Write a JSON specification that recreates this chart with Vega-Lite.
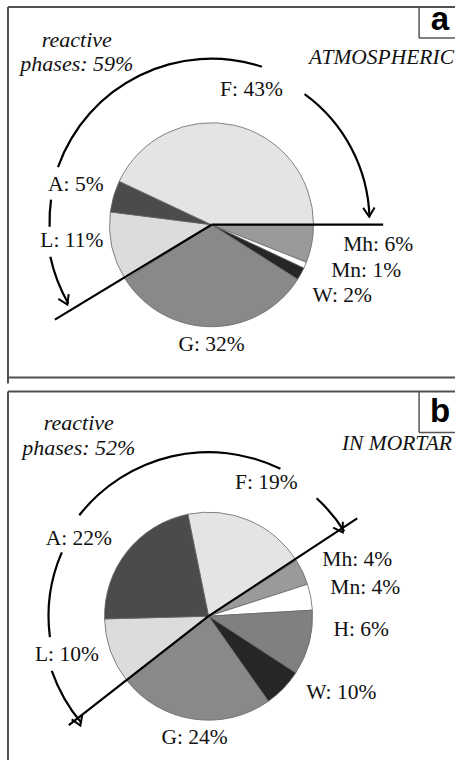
{
  "$schema": "https://vega.github.io/schema/vega-lite/v6.json",
  "width": 456,
  "height": 761,
  "autosize": {"type": "fit", "contains": "padding"},
  "padding": 0,
  "background": "white",
  "config": {"view": {"stroke": null}},
  "datasets": {
    "slices": [
      {"panel": "a", "phase": "Mh", "share": 6, "ord": 1},
      {"panel": "a", "phase": "Mn", "share": 1, "ord": 2},
      {"panel": "a", "phase": "W", "share": 2, "ord": 3},
      {"panel": "a", "phase": "G", "share": 32, "ord": 4},
      {"panel": "a", "phase": "L", "share": 11, "ord": 5},
      {"panel": "a", "phase": "A", "share": 5, "ord": 6},
      {"panel": "a", "phase": "F", "share": 43, "ord": 7},
      {"panel": "b", "phase": "F", "share": 19, "ord": 1},
      {"panel": "b", "phase": "Mh", "share": 4, "ord": 2},
      {"panel": "b", "phase": "Mn", "share": 4, "ord": 3},
      {"panel": "b", "phase": "H", "share": 10, "ord": 4},
      {"panel": "b", "phase": "W", "share": 6, "ord": 5},
      {"panel": "b", "phase": "G", "share": 24, "ord": 6},
      {"panel": "b", "phase": "L", "share": 10, "ord": 7},
      {"panel": "b", "phase": "A", "share": 22, "ord": 8}
    ],
    "curves": [
      {"panel": "a", "t0": 240.2, "t1": 257.7, "r": 165},
      {"panel": "a", "t0": 268.2, "t1": 277.8, "r": 162},
      {"panel": "a", "t0": 289.6, "t1": 378, "r": 163},
      {"panel": "a", "t0": 36.1, "t1": 88.2, "r": 158},
      {"panel": "b", "t0": 230, "t1": 250.8, "r": 166},
      {"panel": "b", "t0": 262.5, "t1": 293.5, "r": 160},
      {"panel": "b", "t0": 308, "t1": 386, "r": 164},
      {"panel": "b", "t0": 42.5, "t1": 58, "r": 160}
    ],
    "heads": [
      {"x": 67.5, "y": 305, "dir": -25},
      {"x": 370, "y": 217, "dir": -2},
      {"x": 343.5, "y": 533, "dir": -32},
      {"x": 80.5, "y": 726.5, "dir": -22}
    ],
    "lines": [
      {"kind": "ray", "x": 212, "y": 225, "x2": 384, "y2": 225},
      {"kind": "ray", "x": 212, "y": 225, "x2": 55, "y2": 320},
      {"kind": "ray", "x": 209, "y": 617, "x2": 358, "y2": 519},
      {"kind": "ray", "x": 209, "y": 617, "x2": 69, "y2": 726},
      {"kind": "frame", "x": 8, "y": 7, "x2": 456, "y2": 7},
      {"kind": "frame", "x": 8, "y": 7, "x2": 8, "y2": 384},
      {"kind": "frame", "x": 8, "y": 378, "x2": 456, "y2": 378},
      {"kind": "frame", "x": 8, "y": 392, "x2": 456, "y2": 392},
      {"kind": "frame", "x": 8, "y": 392, "x2": 8, "y2": 761},
      {"kind": "box", "x": 420, "y": 7, "x2": 420, "y2": 38},
      {"kind": "box", "x": 420, "y": 38, "x2": 456, "y2": 38},
      {"kind": "box", "x": 420, "y": 392, "x2": 420, "y2": 433},
      {"kind": "box", "x": 420, "y": 433, "x2": 456, "y2": 433}
    ],
    "texts": [
      {"kind": "note", "txt": "reactive", "x": 77, "y": 47},
      {"kind": "note", "txt": "phases: 59%", "x": 77, "y": 71},
      {"kind": "title", "txt": "ATMOSPHERIC", "x": 455, "y": 64},
      {"kind": "label", "txt": "F: 43%", "x": 252, "y": 96},
      {"kind": "label", "txt": "A: 5%", "x": 76, "y": 191},
      {"kind": "label", "txt": "L: 11%", "x": 72, "y": 247},
      {"kind": "label", "txt": "Mh: 6%", "x": 379, "y": 251},
      {"kind": "label", "txt": "Mn: 1%", "x": 367, "y": 277},
      {"kind": "label", "txt": "W: 2%", "x": 343, "y": 302},
      {"kind": "label", "txt": "G: 32%", "x": 212, "y": 351},
      {"kind": "note", "txt": "reactive", "x": 79, "y": 431},
      {"kind": "note", "txt": "phases: 52%", "x": 79, "y": 456},
      {"kind": "title", "txt": "IN MORTAR", "x": 453, "y": 451},
      {"kind": "label", "txt": "F: 19%", "x": 267, "y": 490},
      {"kind": "label", "txt": "A: 22%", "x": 79, "y": 546},
      {"kind": "label", "txt": "L: 10%", "x": 67, "y": 662},
      {"kind": "label", "txt": "Mh: 4%", "x": 358, "y": 567},
      {"kind": "label", "txt": "Mn: 4%", "x": 366, "y": 595},
      {"kind": "label", "txt": "H: 6%", "x": 362, "y": 637},
      {"kind": "label", "txt": "W: 10%", "x": 342, "y": 700},
      {"kind": "label", "txt": "G: 24%", "x": 195, "y": 745},
      {"kind": "tag", "txt": "a", "x": 441, "y": 30},
      {"kind": "tag", "txt": "b", "x": 441, "y": 423}
    ]
  },
  "layer": [
    {
      "data": {"name": "slices"},
      "transform": [{"filter": "datum.panel === 'a'"}],
      "mark": {"type": "arc", "radius": 102, "stroke": "#666666", "strokeWidth": 0.8},
      "encoding": {
        "x": {"datum": 212, "type": "quantitative", "scale": {"domain": [0, 456], "nice": false, "zero": false}, "axis": null},
        "y": {"datum": 225, "type": "quantitative", "scale": {"domain": [0, 761], "nice": false, "zero": false, "reverse": true}, "axis": null},
        "theta": {"field": "share", "type": "quantitative", "stack": true, "scale": {"range": [1.5708, 7.854]}},
        "order": {"field": "ord", "type": "quantitative"},
        "color": {"field": "phase", "type": "nominal", "legend": null,
          "scale": {"domain": ["F", "A", "L", "G", "W", "Mn", "Mh", "H"],
                    "range": ["#e4e4e4", "#4b4b4b", "#dcdcdc", "#898989", "#262626", "#ffffff", "#9a9a9a", "#808080"]}}
      }
    },
    {
      "data": {"name": "slices"},
      "transform": [{"filter": "datum.panel === 'b'"}],
      "mark": {"type": "arc", "radius": 104, "stroke": "#666666", "strokeWidth": 0.8},
      "encoding": {
        "x": {"datum": 209, "type": "quantitative"},
        "y": {"datum": 617, "type": "quantitative"},
        "theta": {"field": "share", "type": "quantitative", "stack": true, "scale": {"range": [-0.2007, 6.0825]}},
        "order": {"field": "ord", "type": "quantitative"},
        "color": {"field": "phase", "type": "nominal", "legend": null}
      }
    },
    {
      "data": {"name": "curves"},
      "transform": [{"filter": "datum.panel === 'a'"}],
      "mark": {"type": "arc", "color": "#000000", "radiusOffset": 1.1, "radius2Offset": -1.1},
      "encoding": {
        "x": {"datum": 212, "type": "quantitative"},
        "y": {"datum": 222, "type": "quantitative"},
        "theta": {"field": "t0", "type": "quantitative", "scale": {"domain": [0, 360], "range": [0, 6.2832], "zero": false, "nice": false}},
        "theta2": {"field": "t1"},
        "radius": {"field": "r", "type": "quantitative", "scale": {"type": "linear", "domain": [0, 200], "range": [0, 200], "zero": true, "nice": false}},
        "radius2": {"field": "r"}
      }
    },
    {
      "data": {"name": "curves"},
      "transform": [{"filter": "datum.panel === 'b'"}],
      "mark": {"type": "arc", "color": "#000000", "radiusOffset": 1.1, "radius2Offset": -1.1},
      "encoding": {
        "x": {"datum": 209, "type": "quantitative"},
        "y": {"datum": 617, "type": "quantitative"},
        "theta": {"field": "t0", "type": "quantitative", "scale": {"domain": [0, 360], "range": [0, 6.2832], "zero": false, "nice": false}},
        "theta2": {"field": "t1"},
        "radius": {"field": "r", "type": "quantitative"},
        "radius2": {"field": "r"}
      }
    },
    {
      "data": {"name": "lines"},
      "transform": [{"filter": "datum.kind === 'ray'"}],
      "mark": {"type": "rule", "color": "#000000", "strokeWidth": 2.2},
      "encoding": {
        "x": {"field": "x", "type": "quantitative"},
        "y": {"field": "y", "type": "quantitative"},
        "x2": {"field": "x2"}, "y2": {"field": "y2"}
      }
    },
    {
      "data": {"name": "lines"},
      "transform": [{"filter": "datum.kind === 'frame'"}],
      "mark": {"type": "rule", "color": "#505050", "strokeWidth": 2},
      "encoding": {
        "x": {"field": "x", "type": "quantitative"},
        "y": {"field": "y", "type": "quantitative"},
        "x2": {"field": "x2"}, "y2": {"field": "y2"}
      }
    },
    {
      "data": {"name": "lines"},
      "transform": [{"filter": "datum.kind === 'box'"}],
      "mark": {"type": "rule", "color": "#555555", "strokeWidth": 1.5},
      "encoding": {
        "x": {"field": "x", "type": "quantitative"},
        "y": {"field": "y", "type": "quantitative"},
        "x2": {"field": "x2"}, "y2": {"field": "y2"}
      }
    },
    {
      "data": {"name": "heads"},
      "mark": {"type": "point", "shape": "M -0.6 -0.95 L 0 0 L 0.6 -0.95", "filled": false, "color": "#000000", "strokeWidth": 2, "size": 360, "opacity": 1},
      "encoding": {
        "x": {"field": "x", "type": "quantitative"},
        "y": {"field": "y", "type": "quantitative"},
        "angle": {"field": "dir", "type": "quantitative", "scale": null}
      }
    },
    {
      "data": {"name": "texts"},
      "transform": [{"filter": "datum.kind === 'note'"}],
      "mark": {"type": "text", "font": "Liberation Serif", "fontStyle": "italic", "fontSize": 22, "align": "center", "baseline": "alphabetic", "color": "#111111"},
      "encoding": {
        "x": {"field": "x", "type": "quantitative"},
        "y": {"field": "y", "type": "quantitative"},
        "text": {"field": "txt"}
      }
    },
    {
      "data": {"name": "texts"},
      "transform": [{"filter": "datum.kind === 'title'"}],
      "mark": {"type": "text", "font": "Liberation Serif", "fontStyle": "italic", "fontSize": 21.5, "align": "right", "baseline": "alphabetic", "color": "#111111"},
      "encoding": {
        "x": {"field": "x", "type": "quantitative"},
        "y": {"field": "y", "type": "quantitative"},
        "text": {"field": "txt"}
      }
    },
    {
      "data": {"name": "texts"},
      "transform": [{"filter": "datum.kind === 'label'"}],
      "mark": {"type": "text", "font": "Liberation Serif", "fontSize": 21.5, "align": "center", "baseline": "alphabetic", "color": "#111111"},
      "encoding": {
        "x": {"field": "x", "type": "quantitative"},
        "y": {"field": "y", "type": "quantitative"},
        "text": {"field": "txt"}
      }
    },
    {
      "data": {"name": "texts"},
      "transform": [{"filter": "datum.kind === 'tag'"}],
      "mark": {"type": "text", "font": "Liberation Sans", "fontWeight": "bold", "fontSize": 33, "align": "center", "baseline": "alphabetic", "color": "#000000"},
      "encoding": {
        "x": {"field": "x", "type": "quantitative"},
        "y": {"field": "y", "type": "quantitative"},
        "text": {"field": "txt"}
      }
    }
  ],
  "resolve": {"scale": {"theta": "independent"}}
}
